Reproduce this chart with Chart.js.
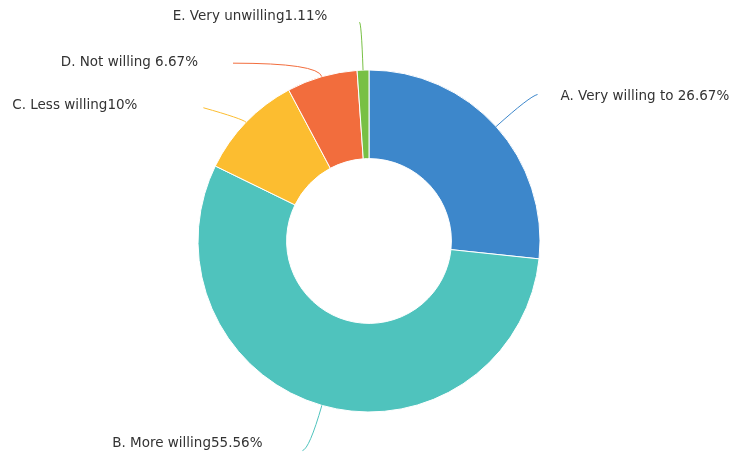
<!DOCTYPE html>
<html>
<head>
<meta charset="utf-8">
<script src="https://cdn.jsdelivr.net/npm/chart.js@4/dist/chart.umd.min.js"></script>
<style>
  body { margin: 0; background: #fff; }
  canvas { display: block; }
</style>
</head>
<body>
<canvas id="myChart" width="733" height="457"></canvas>
<script>
const categories = ["A. Very willing to ", "B. More willing", "C. Less willing", "D. Not willing ", "E. Very unwilling"];
const percentValues = [26.67, 55.56, 10, 6.67, 1.11];
const sliceColors = ["#3d87cb", "#4fc3bd", "#fcbd30", "#f26d3d", "#78c044"];

// leader line layout for each slice: radial length, second segment, text offset
const leaderLayout = [
  { len: 45, seg: [8, -2], text: [23, 2], align: "left" },
  { len: 45, seg: [-7, 2], text: [-40, -7], align: "right" },
  { len: 5, seg: [-39, -11], text: [-66, -2], align: "right" },
  { len: 14, seg: [-85, 0], text: [-35, -1], align: "right" },
  { len: 48, seg: [-2, 0], text: [-32, -6], align: "right" },
];

const leaderLabels = {
  id: "leaderLabels",
  afterDatasetsDraw(chart) {
    const ctx = chart.ctx;
    const meta = chart.getDatasetMeta(0);
    meta.data.forEach((arc, i) => {
      const lay = leaderLayout[i];
      const mid = (arc.startAngle + arc.endAngle) / 2;
      const cos = Math.cos(mid), sin = Math.sin(mid);
      const x0 = arc.x + cos * arc.outerRadius;
      const y0 = arc.y + sin * arc.outerRadius;
      const x1 = x0 + cos * lay.len;
      const y1 = y0 + sin * lay.len;
      const x2 = x1 + lay.seg[0];
      const y2 = y1 + lay.seg[1];
      ctx.save();
      ctx.strokeStyle = sliceColors[i];
      ctx.lineWidth = 1;
      ctx.beginPath();
      ctx.moveTo(x0, y0);
      ctx.quadraticCurveTo(x1, y1, x2, y2);
      ctx.stroke();
      ctx.fillStyle = "#333";
      ctx.font = "13.5px 'DejaVu Sans', sans-serif";
      ctx.textAlign = lay.align;
      ctx.textBaseline = "middle";
      ctx.fillText(categories[i] + percentValues[i] + "%", x2 + lay.text[0], y2 + lay.text[1]);
      ctx.restore();
    });
  }
};

const ctx = document.getElementById("myChart").getContext("2d");
new Chart(ctx, {
  type: "doughnut",
  data: {
    labels: categories,
    datasets: [{
      data: percentValues,
      backgroundColor: sliceColors,
      borderColor: "#fff",
      borderWidth: 1,
    }],
  },
  options: {
    responsive: false,
    animation: false,
    radius: 171,
    cutout: 86,
    layout: { padding: { left: 190, right: 185, top: 60, bottom: 35 } },
    plugins: {
      legend: { display: false },
      tooltip: { enabled: false },
    },
  },
  plugins: [leaderLabels],
});
</script>
</body>
</html>
